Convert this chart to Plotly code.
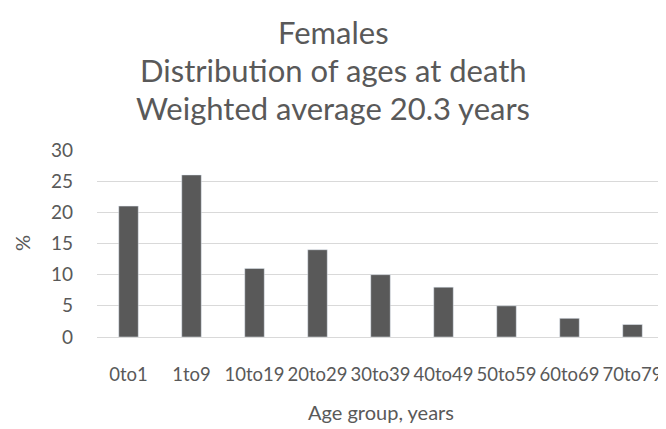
import plotly.graph_objects as go

categories = ["0to1", "1to9", "10to19", "20to29", "30to39", "40to49", "50to59", "60to69", "70to79"]
values = [21, 26, 11, 14, 10, 8, 5, 3, 2]
y_ticks = [0, 5, 10, 15, 20, 25, 30]
title_lines = ["Females", "Distribution of ages at death", "Weighted average 20.3 years"]
x_title = "Age group, years"
y_title = "%"

font_family = "Lato, Open Sans, sans-serif"
text_color = "#595959"

# The page body adds an 8px offset; figure coordinates below account for it.
W, H = 666, 429
L, R, T, B = 89, 10, 142, 100
pw, ph = W - L - R, H - T - B


def px_to_paper(xp, yp):
    return (xp - L) / pw, (H - B - yp) / ph


fig = go.Figure(go.Bar(x=categories, y=values, marker_color="#595959", width=0.31))

annotations = []
for i, line in enumerate(title_lines):
    xx, yy = px_to_paper(325, 24 + i * 38)
    annotations.append(dict(text=line, x=xx, y=yy, xref="paper", yref="paper",
                            xanchor="center", yanchor="middle", showarrow=False,
                            font=dict(size=31, color=text_color, family=font_family)))
xx, yy = px_to_paper(373, 404)
annotations.append(dict(text=x_title, x=xx, y=yy, xref="paper", yref="paper",
                        xanchor="center", yanchor="middle", showarrow=False,
                        font=dict(size=20, color=text_color, family=font_family)))
xx, yy = px_to_paper(14, 235)
annotations.append(dict(text=y_title, x=xx, y=yy, xref="paper", yref="paper",
                        xanchor="center", yanchor="middle", showarrow=False, textangle=-90,
                        font=dict(size=20, color=text_color, family=font_family)))

fig.update_layout(
    width=W, height=H,
    margin=dict(l=L, r=R, t=T, b=B),
    paper_bgcolor="white", plot_bgcolor="white",
    font=dict(family=font_family, color=text_color, size=18.5),
    showlegend=False,
    annotations=annotations,
)
fig.update_xaxes(
    showgrid=False, showline=False, zeroline=False, automargin=False,
    tickangle=0, tickfont=dict(size=18.5), ticklabelstandoff=24,
)
fig.update_yaxes(
    range=[0, 30], tickvals=y_ticks, showgrid=True, gridcolor="#d9d9d9", gridwidth=1.2,
    zeroline=True, zerolinecolor="#d9d9d9", zerolinewidth=1.2, automargin=False,
    tickfont=dict(size=19), ticklabelstandoff=23,
)

fig.write_html("out.html")
